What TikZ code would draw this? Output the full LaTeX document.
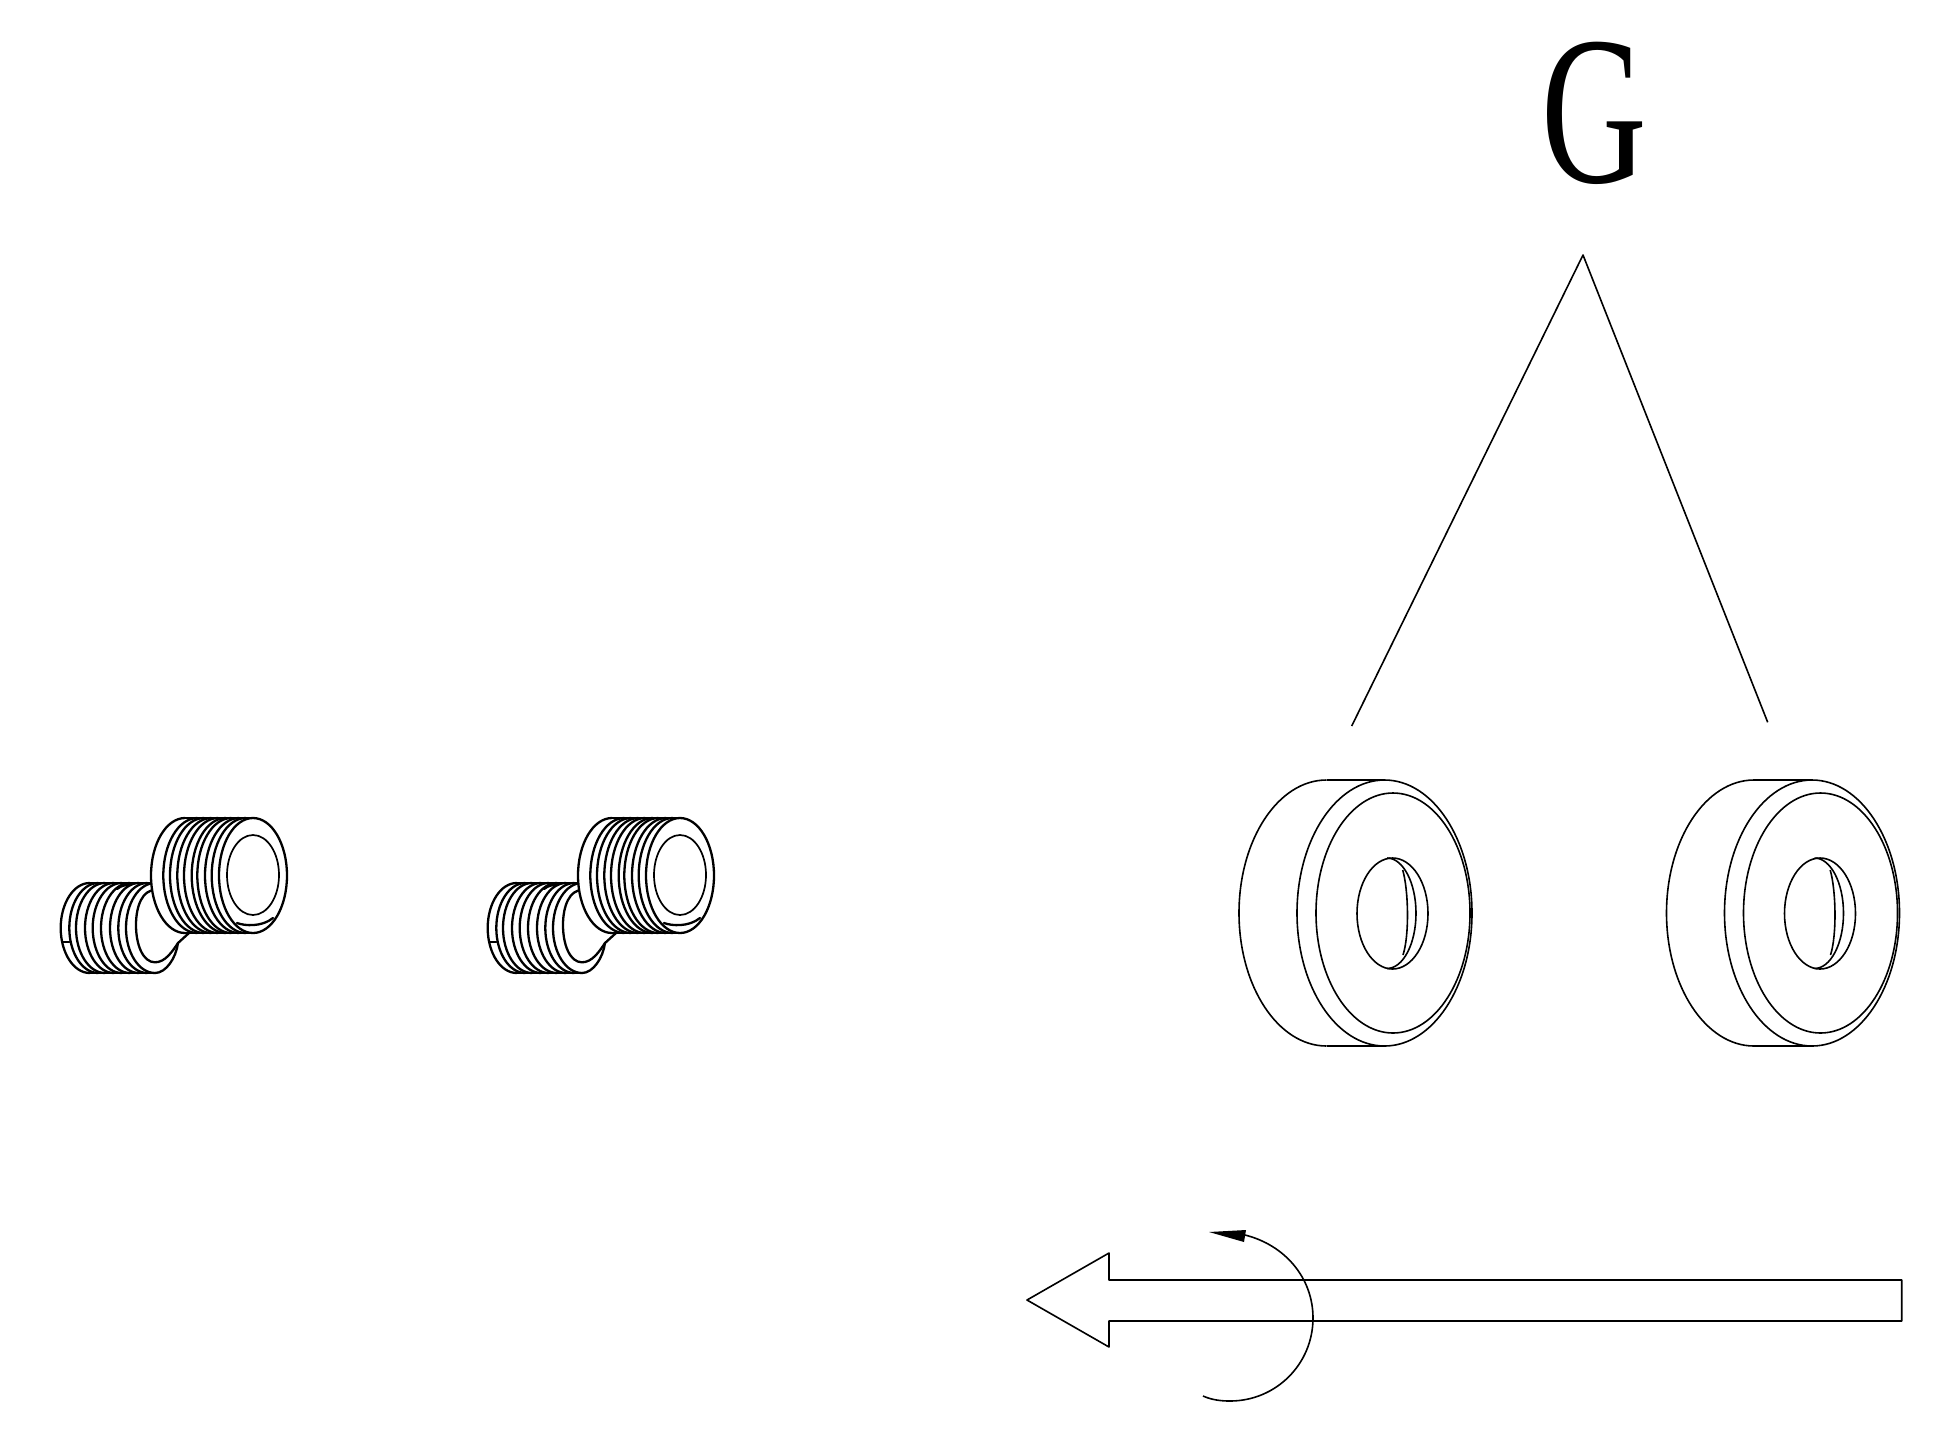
\documentclass[tikz,border=0pt]{standalone}
\usepackage{fontspec}
\setmainfont{Liberation Serif}
\tikzset{
  ink/.style={line width=1.6pt,black,line join=round},
  coil/.style={line width=2.3pt,black,line cap=round,line join=round},
}
\begin{document}
\begin{tikzpicture}[x=1pt,y=-1pt]
\useasboundingbox (0,0) rectangle (1933,1433);
% coils
\foreach \dx in {0,427}{
\begin{scope}[shift={(\dx,0)},coil]
  % small coil
  \draw (89.7,883) -- (170,883);
  \draw (89.7,973) -- (155,973);
  \foreach \lx in {60.7,69.3,76,85,92.7,101,110,118.3,126}{
    \draw ({\lx+29},883) arc[start angle=90,end angle=270,x radius=29pt,y radius=45pt];
  }
  \draw (62.7,941.7) -- (69.3,941.7);
  \draw (117,889) .. controls (122,885) and (126,885) .. (131,885);
  \draw (155,890) .. controls (143,890) and (136,905) .. (136,925)
        .. controls (136,945) and (143,962.3) .. (155,962.3)
        .. controls (165,962.3) and (172,952) .. (178,943) -- (189,933);
  \draw (155,973) .. controls (166,973) and (176,958) .. (178,943);
  % large coil
  \fill[white] (185,818) arc[start angle=90,end angle=270,x radius=34pt,y radius=57.5pt] -- (253,933)
    arc[start angle=-90,end angle=90,x radius=34pt,y radius=57.5pt] -- cycle;
  \draw (185,818) -- (253,818);
  \draw (185,933) -- (253,933);
  \foreach \lx in {151,163.3,170,177.3,184,191.7,197.3,205,211.7}{
    \draw ({\lx+34},818) arc[start angle=90,end angle=270,x radius=34pt,y radius=57.5pt];
  }
  \draw (253,875.5) ellipse[x radius=34pt,y radius=57.5pt];
  \draw[line width=1.7pt] (253,875) ellipse[x radius=26pt,y radius=40pt];
  \draw (237,923) .. controls (245,926) and (262,927) .. (273,918);
\end{scope}}
% rings
\foreach \dx in {0,427.5}{
\begin{scope}[shift={(\dx,0)},ink]
  \draw (1326.5,780) arc[start angle=90,end angle=270,x radius=87.5pt,y radius=133pt];
  \draw (1326.5,780) -- (1384.5,780);
  \draw (1326.5,1046) -- (1384.5,1046);
  \draw (1384.5,913) ellipse[x radius=87.5pt,y radius=133pt];
  \draw (1393,913) ellipse[x radius=77pt,y radius=120pt];
  \draw (1392.5,913.5) ellipse[x radius=35.5pt,y radius=55.5pt];
  \draw (1387,858) arc[start angle=90,end angle=-90,x radius=29pt,y radius=55.25pt];
  \draw (1402.7,870) .. controls (1408.5,890) and (1409.5,935) .. (1403,955);
\end{scope}}
% apex lines
\coordinate (apex) at (1583,255);
\coordinate (legL) at (1351.7,726);
\coordinate (legR) at (1767.7,722.3);
\draw[ink] (legL) -- (apex) -- (legR);
% label
\node[inner sep=0pt,xscale=0.69,transform shape] (lblG) at (1594.5,113) {\fontsize{212pt}{212pt}\selectfont G};
% big arrow
\draw[ink] (1027,1300) -- (1109,1253) -- (1109,1280) -- (1901.7,1280) -- (1901.7,1321) -- (1109,1321) -- (1109,1347) -- cycle;
% rotation arc
\draw[ink] (1203,1396) .. controls (1212,1400) and (1221,1401) .. (1230,1401)
  .. controls (1276,1401) and (1313,1364) .. (1313,1318)
  .. controls (1313,1278) and (1285,1245) .. (1245,1235);
\fill (1209,1232) -- (1246,1230) -- (1244,1242) -- cycle;
\end{tikzpicture}
\end{document}
